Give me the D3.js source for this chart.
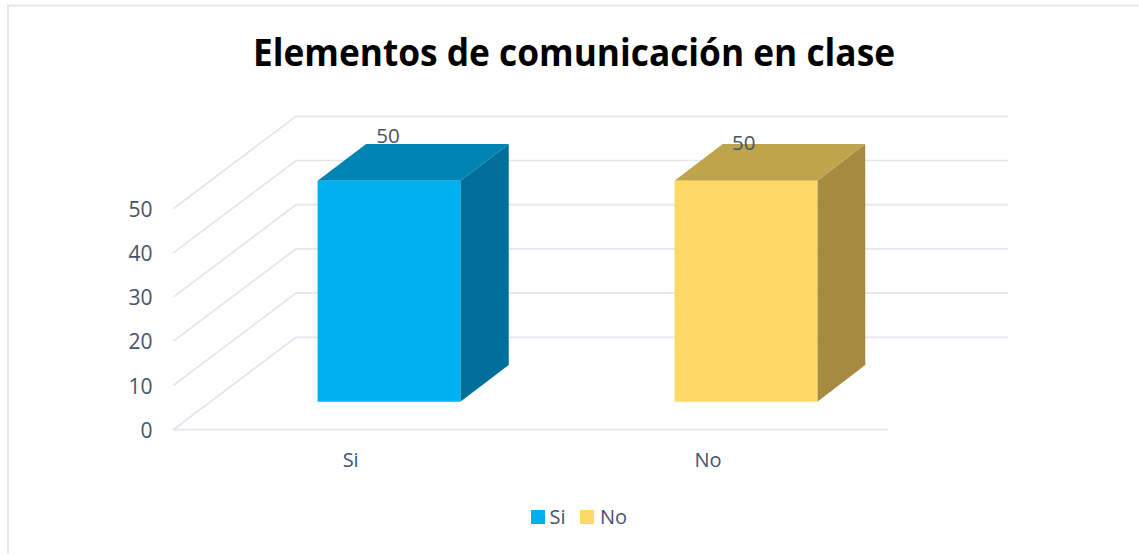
<!DOCTYPE html>
<html><head><meta charset="utf-8">
<script src="https://cdn.jsdelivr.net/npm/d3@7"></script>
<style>html,body{margin:0;padding:0;background:#fff}svg{display:block}text{font-family:"Open Sans",sans-serif}</style>
</head><body><div id="c"></div>
<script>
const titleText = "Elementos de comunicación en clase";
const categories = ["Si","No"];
const values = [50,50];
const yTicks = [0,10,20,30,40,50];
const frontColors = ["#00b0f0","#ffd966"];
const topColors = ["#0084b4","#bfa34d"];
const sideColors = ["#00709a","#a48b3f"];
const labelShift = [[-1,-37.4],[-2.2,-30.4]];

const W=1139,H=554;
const svg=d3.select("#c").append("svg").attr("width",W).attr("height",H);
const frame=svg.append("g").attr("stroke","#e4e7ee").attr("stroke-width",2).attr("fill","none");
frame.append("path").attr("d",d3.line()([[8,H],[8,5.5],[W,5.5]]));

const y=d3.scaleLinear().domain([0,50]).range([429.7,208.7]);
const x=d3.scaleBand().domain(categories).range([173.3,888]).paddingInner(0.6).paddingOuter(0.3);
const depthY=d3.scaleLinear().domain([0,1]).range([0,-92.4]);
const leftAt=d3.scaleLinear().domain([0,1]).range([173.3,296]);
const rightAt=d3.scaleLinear().domain([0,1]).range([888,1008.3]);
const frac=d3.scaleLinear().domain(x.range()).range([0,1]);
const P=(px,v,t)=>[d3.interpolateNumber(leftAt(t),rightAt(t))(frac(px)),y(v)+depthY(t)];
const t1=0.303,t2=0.70;
const [x0,x1]=x.range();
const line=d3.line();
const g=svg.append("g").attr("fill","none").attr("stroke","#e3e6ed").attr("stroke-width",1.7);
yTicks.forEach(v=>{
  g.append("path").attr("d",line([P(x0,v,0),P(x0,v,1),P(x1,v,1)]));
});
g.append("path").attr("d",line([P(x0,0,0),P(x1,0,0)]));

categories.forEach((c,i)=>{
  const a=x(c),b=a+x.bandwidth(),v=values[i],mid=a+x.bandwidth()/2;
  const bar=svg.append("g");
  bar.append("path").attr("fill",sideColors[i]).attr("d",line([P(b,0,t1),P(b,0,t2),P(b,v,t2),P(b,v,t1)])+"Z");
  bar.append("path").attr("fill",topColors[i]).attr("d",line([P(a,v,t1),P(a,v,t2),P(b,v,t2),P(b,v,t1)])+"Z");
  bar.append("path").attr("fill",frontColors[i]).attr("d",line([P(a,0,t1),P(b,0,t1),P(b,v,t1),P(a,v,t1)])+"Z");
  const p=P(mid,v,t1);
  svg.append("text").attr("x",p[0]+labelShift[i][0]).attr("y",p[1]+labelShift[i][1]).attr("text-anchor","middle").attr("font-size",20.5).attr("fill","#44546a").text(v);
  svg.append("text").attr("x",mid-1.3).attr("y",467).attr("text-anchor","middle").attr("font-size",20).attr("fill","#44546a").text(c);
});
yTicks.forEach(v=>{
  svg.append("text").attr("x",152.5).attr("y",y(v)+8).attr("text-anchor","end").attr("font-size",21).attr("fill","#44546a").text(v);
});
svg.append("text").attr("x",574).attr("y",65.7).attr("text-anchor","middle").attr("font-size",37.5).attr("font-weight",700).attr("fill","#000").attr("textLength",642).attr("lengthAdjust","spacingAndGlyphs").text(titleText);

const legendX=[531,580], legendTextX=[549.5,600];
categories.forEach((c,i)=>{
  svg.append("rect").attr("x",legendX[i]).attr("y",510).attr("width",14).attr("height",14).attr("fill",frontColors[i]);
  svg.append("text").attr("x",legendTextX[i]).attr("y",524).attr("font-size",20).attr("fill","#44546a").text(c);
});
</script></body></html>
